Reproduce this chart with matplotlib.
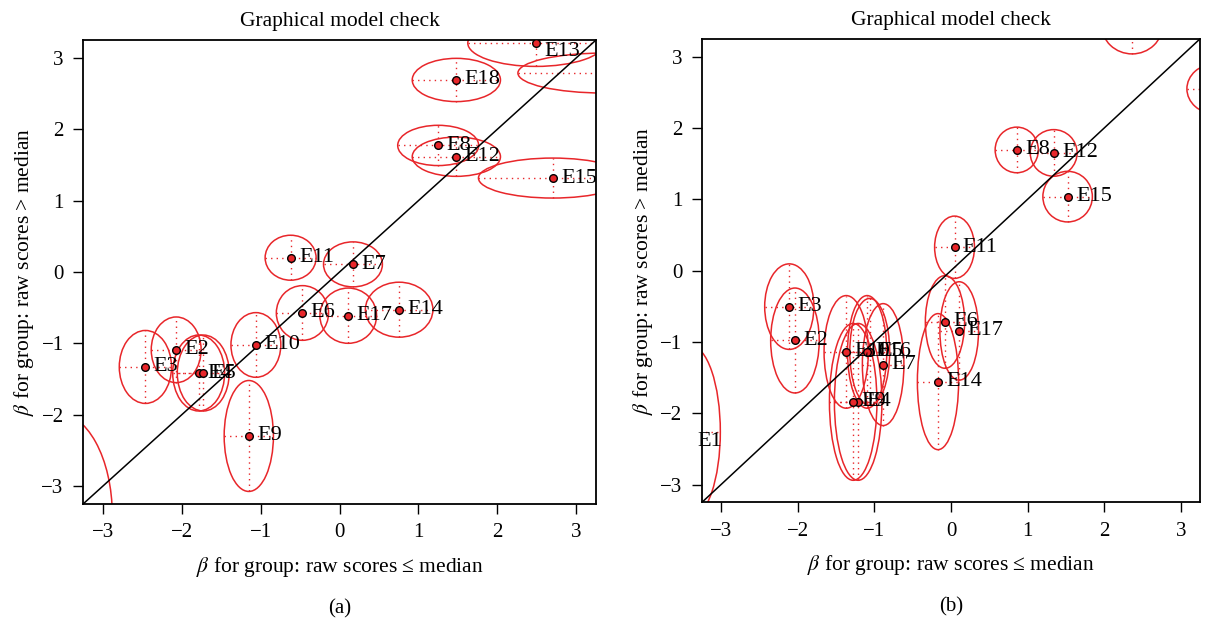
import matplotlib
matplotlib.use('Agg')
import matplotlib.pyplot as plt
from matplotlib.patches import Ellipse

plt.rcParams['font.family'] = ['Liberation Serif', 'DejaVu Serif']
plt.rcParams['mathtext.fontset'] = 'stix'

labels = ['E%d' % i for i in range(1, 19)]

# panel (a): estimates and half-widths of the confidence ellipses
a_x = [-3.6, -2.07, -2.46, -1.785, -1.727, -0.47, 0.17, 1.25, -1.15,
       -1.06, -0.62, 1.48, 2.49, 0.755, 2.70, 3.35, 0.11, 1.48]
a_y = [-3.4, -1.09, -1.33, -1.415, -1.415, -0.574, 0.107, 1.773, -2.297,
       -1.022, 0.20, 1.615, 3.207, -0.528, 1.316, 2.787, -0.612, 2.69]
a_sx = [0.72, 0.316, 0.331, 0.329, 0.329, 0.331, 0.373, 0.513, 0.312,
        0.316, 0.323, 0.559, 0.865, 0.428, 0.94, 1.09, 0.359, 0.559]
a_sy = [1.44, 0.46, 0.511, 0.532, 0.532, 0.383, 0.315, 0.282, 0.777,
        0.453, 0.315, 0.275, 0.327, 0.385, 0.28, 0.28, 0.387, 0.303]

# panel (b)
b_x = [-3.4, -2.036, -2.11, -1.211, -1.06, -0.078, -0.885, 0.859, -1.276,
       -1.367, 0.047, 1.341, 2.365, -0.169, 1.523, -1.094, 0.108, 3.45]
b_y = [-2.26, -0.98, -0.505, -1.841, -1.14, -0.72, -1.318, 1.693, -1.841,
       -1.14, 0.328, 1.651, 3.45, -1.557, 1.038, -1.14, -0.846, 2.55]
b_sx = [0.39, 0.317, 0.321, 0.31, 0.26, 0.256, 0.271, 0.282, 0.31,
        0.289, 0.26, 0.306, 0.40, 0.269, 0.323, 0.256, 0.252, 0.37]
b_sy = [1.21, 0.736, 0.60, 1.10, 0.75, 0.65, 0.855, 0.32, 1.10,
        0.79, 0.437, 0.327, 0.41, 0.954, 0.355, 0.79, 0.69, 0.35]

ticks = [-3, -2, -1, 0, 1, 2, 3]
lim = 3.25
red = '#e8262a'


def draw_panel(ax, xs, ys, sx, sy, sub):
    ax.set_xlim(-lim, lim)
    ax.set_ylim(-lim, lim)
    ax.plot([-lim, lim], [-lim, lim], color='black', lw=1.1, zorder=3)
    for x, y, w, h, lab in zip(xs, ys, sx, sy, labels):
        ax.add_patch(Ellipse((x, y), 2 * w, 2 * h, fill=False,
                             edgecolor=red, lw=1.1, zorder=2))
        ax.plot([x - w, x + w], [y, y], color=red, ls=(0, (1, 3)), lw=1, zorder=2)
        ax.plot([x, x], [y - h, y + h], color=red, ls=(0, (1, 3)), lw=1, zorder=2)
        ax.plot(x, y, 'o', ms=5.5, mfc=red, mec='black', mew=1, zorder=4)
        # labels only for points whose label falls in the plot region
        if y < -lim or y > lim + 0.1 or x > lim:
            continue
        if x < -lim:
            ax.text(-lim - 0.06, y, lab, fontsize=16, ha='left', va='top', clip_on=False)
        else:
            ly = min(max(y, -lim + 0.16), lim - 0.16)
            ax.annotate(lab, (x, ly), xytext=(6, 0), textcoords='offset points',
                        fontsize=16, ha='left', va='center', zorder=5)
    ax.set_xticks(ticks)
    ax.set_yticks(ticks)
    ax.set_xticklabels(['\u2212%d' % -t if t < 0 else str(t) for t in ticks])
    ax.set_yticklabels(['\u2212%d' % -t if t < 0 else str(t) for t in ticks])
    ax.tick_params(direction='out', length=7, width=1, labelsize=15, pad=7)
    for s in ax.spines.values():
        s.set_linewidth(1.3)
    ax.set_title('Graphical model check', fontsize=15.5, pad=10)
    ax.set_xlabel(r'$\beta$ for group: raw scores ≤ median', fontsize=15.5, labelpad=9)
    ax.set_ylabel(r'$\beta$ for group: raw scores > median', fontsize=15.5, labelpad=4)
    ax.text(0.5, -0.225, sub, transform=ax.transAxes, ha='center', va='center',
            fontsize=15)


fig = plt.figure(figsize=(12.09, 6.22), dpi=100)
ax1 = fig.add_axes([0.0687, 0.1897, 0.4243, 0.746])
ax2 = fig.add_axes([0.5806, 0.1924, 0.4119, 0.745])
draw_panel(ax1, a_x, a_y, a_sx, a_sy, '(a)')
draw_panel(ax2, b_x, b_y, b_sx, b_sy, '(b)')
fig.savefig('out.png', dpi=100)
